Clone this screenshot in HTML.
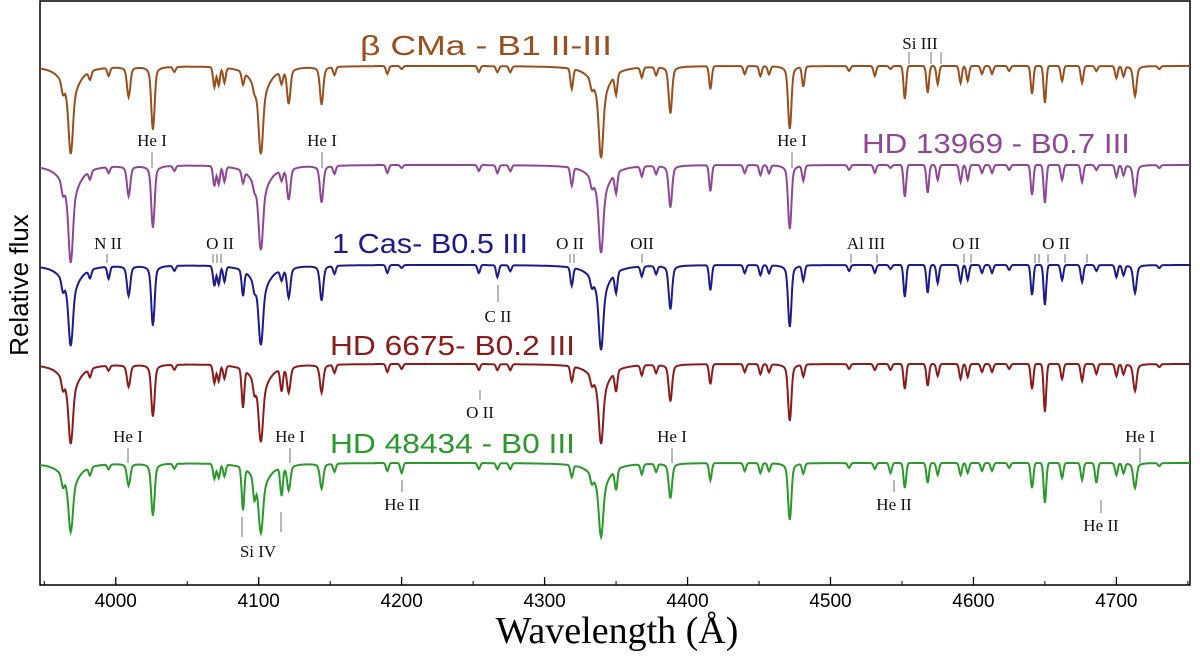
<!DOCTYPE html>
<html><head><meta charset="utf-8"><style>
body{margin:0;background:#fff}
svg{display:block}
text{font-family:"Liberation Serif","DejaVu Serif",serif}
.sans{font-family:"Liberation Sans","DejaVu Sans",sans-serif}
</style></head><body>
<svg id="chart" width="1200" height="658" xmlns="http://www.w3.org/2000/svg"></svg>
<script>
const lineWaves = [3963,3968.5,3982,3995,4009,4026,4041,4069,4072,4076,4089,4097,4101.5,4116,4121,4144,4153,4190,4200,4254,4267,4276,4319,4333,4339.5,4350,4368,4378,4388,4416,4440,4451,4457,4471.5,4481,4513,4531,4542,4552,4568,4575,4591,4596,4606,4613,4625,4641,4650,4662,4676,4686,4700,4705,4713,4730];
const lineType  = ["m","H","m","m","he","he","m","m","m","m","m","m","H","m","he","he","m","m","m","m","m","m","m","m","H","m","m","m","he","m","m","m","m","he","m","m","m","m","m","m","m","m","m","m","m","m","m","m","m","m","m","m","m","he","m"];
const depthB1   = [10,88,8,8,30,63,5,20,18,15,12,6,88,12,35,38,8,8,3,6,6,6,20,8,92,20,10,8,47,23,8,10,8,63,20,5,10,3,33,27,18,17,15,8,8,5,28,37,15,17,5,12,10,30,3];
const depthB07  = [10,98,8,6,30,62,5,20,18,15,12,6,85,10,32,37,8,8,3,6,8,6,18,8,88,20,10,8,42,26,8,10,8,64,15,5,8,3,32,28,15,17,15,8,8,5,30,38,15,17,5,12,10,30,3];
const depthB05  = [10,81,8,12,30,60,5,20,18,15,25,8,80,10,30,35,8,8,3,8,12,6,18,8,85,20,10,8,44,25,8,10,8,62,15,6,8,4,32,28,18,17,15,8,8,5,30,40,15,17,6,12,10,28,3];
const depthB02  = [10,80,8,5,22,52,5,18,16,13,38,12,78,22,26,28,8,8,5,6,6,6,15,8,80,20,10,8,37,20,8,10,8,57,12,5,6,6,25,22,12,15,13,8,8,5,25,48,15,17,10,12,10,27,3];
const depthB0   = [10,69,8,5,22,52,5,15,14,12,42,20,70,28,25,25,8,8,10,6,6,6,12,8,74,20,10,8,35,17,8,10,8,57,10,5,6,10,25,20,12,12,10,8,8,5,25,40,15,17,20,12,10,25,3];
const starDepths = [depthB1,depthB07,depthB05,depthB02,depthB0];
const starLevels = [66,165,265,364,463];
const starNames = ["β  CMa - B1 II-III","HD 13969 - B0.7 III","1 Cas- B0.5 III","HD 6675- B0.2 III","HD 48434 - B0 III"];
const starColors = ["#9a501c","#8e4896","#1c1c8a","#8c1c1c","#2a9a2a"];
const xTicks = [4000,4100,4200,4300,4400,4500,4600,4700];

const svg = document.getElementById('chart');
const NS = "http://www.w3.org/2000/svg";
const X0=40,X1=1190,Y0=1,Y1=585,WMIN=3947,WMAX=4751.5;
const xs = w => X0+(w-WMIN)*(X1-X0)/(WMAX-WMIN);
function mk(tag,attrs,parent){const e=document.createElementNS(NS,tag);for(const k in attrs)e.setAttribute(k,attrs[k]);(parent||svg).appendChild(e);return e;}

function profile(w,t,d){
  if(t==="H") return d*(0.6*Math.exp(-w*w/(2*1.4*1.4))+0.4/(1+(w/6)*(w/6)));
  if(t==="he") return d*(0.8*Math.exp(-w*w/(2*1.1*1.1))+0.2/(1+(w/2.5)*(w/2.5)));
  return d*Math.exp(-w*w/(2*0.9*0.9));
}
const frame=mk('rect',{x:X0,y:Y0,width:X1-X0,height:Y1-Y0,fill:'none',stroke:'#000','stroke-width':1.5});


starDepths.forEach((dep,si)=>{
  let d="";
  for(let w=WMIN;w<=WMAX;w+=0.5){
    let f=0;
    for(let i=0;i<lineWaves.length;i++){const dw=w-lineWaves[i];if(Math.abs(dw)<80)f+=profile(dw,lineType[i],dep[i]);}
    const y=starLevels[si]+Math.min(f,110);
    d+=(d?"L":"M")+xs(w).toFixed(1)+","+y.toFixed(1);
  }
  const p=mk('path',{d:d,fill:'none',stroke:starColors[si],'stroke-width':2});
  
  
});
const titlePos=[[360,55,252],[862,153,268],[332,253,196],[330,355,245],[330,453,245]];
starNames.forEach((n,i)=>{
  const t=mk('text',{x:titlePos[i][0],y:titlePos[i][1],fill:starColors[i],'font-size':28,'class':'sans',textLength:titlePos[i][2],lengthAdjust:'spacingAndGlyphs'});
  t.textContent=n;
  
  
});
const ids=[["Si III",920,49,[909,931,941],52,64],["He I",152,146,[152],152,168],["He I",322,146,[322],152,168],["He I",792,146,[792],152,168],
["N II",108,249,[107],254,263],["O II",220,249,[213,217,221],254,263],["O II",570,249,[570,574],254,263],["OII",642,249,[642],254,263],
["Al III",866,249,[851,877],254,263],["O II",966,249,[964,971],254,263],["O II",1056,249,[1035,1039,1048,1065,1087],254,263],
["C II",498,322,[498],285,302],["O II",480,418,[480],390,400],
["He I",128,442,[128],448,463],["He I",290,442,[290],448,463],["He I",672,442,[672],448,463],["He I",1140,442,[1140],448,463],
["He II",402,510,[402],480,492],["He II",894,510,[894],480,492],["He II",1101,531,[1101],500,513],["Si IV",258,557,[242],517,537]];
ids.forEach((r,i)=>{
  const t=mk('text',{x:r[1],y:r[2],'font-size':17,'text-anchor':'middle',fill:'#111'});t.textContent=r[0];
  
  
  r[3].forEach(x=>mk('line',{x1:x,x2:x,y1:r[4],y2:r[5],stroke:'#888','stroke-width':1.2}));
});
mk('line',{x1:281,x2:281,y1:512,y2:532,stroke:'#888','stroke-width':1.2});
xTicks.forEach(v=>{
  const x=xs(v);
  mk('line',{x1:x,x2:x,y1:Y1,y2:Y1-8,stroke:'#000','stroke-width':1.3});
  const t=mk('text',{x:x,y:607,'font-size':19,'text-anchor':'middle','class':'sans'});t.textContent=v;
  
  
});
for(let v=3950;v<=4750;v+=50){if(v%100){const x=xs(v);mk('line',{x1:x,x2:x,y1:Y1,y2:Y1-4,stroke:'#000','stroke-width':1});}}
const xt=mk('text',{x:617,y:643,'font-size':38,'text-anchor':'middle'});xt.textContent="Wavelength (Å)";

const yt=mk('text',{x:0,y:0,'font-size':26,'text-anchor':'middle','class':'sans',transform:'translate(28,285) rotate(-90)'});yt.textContent="Relative flux";

</script>
</body></html>
